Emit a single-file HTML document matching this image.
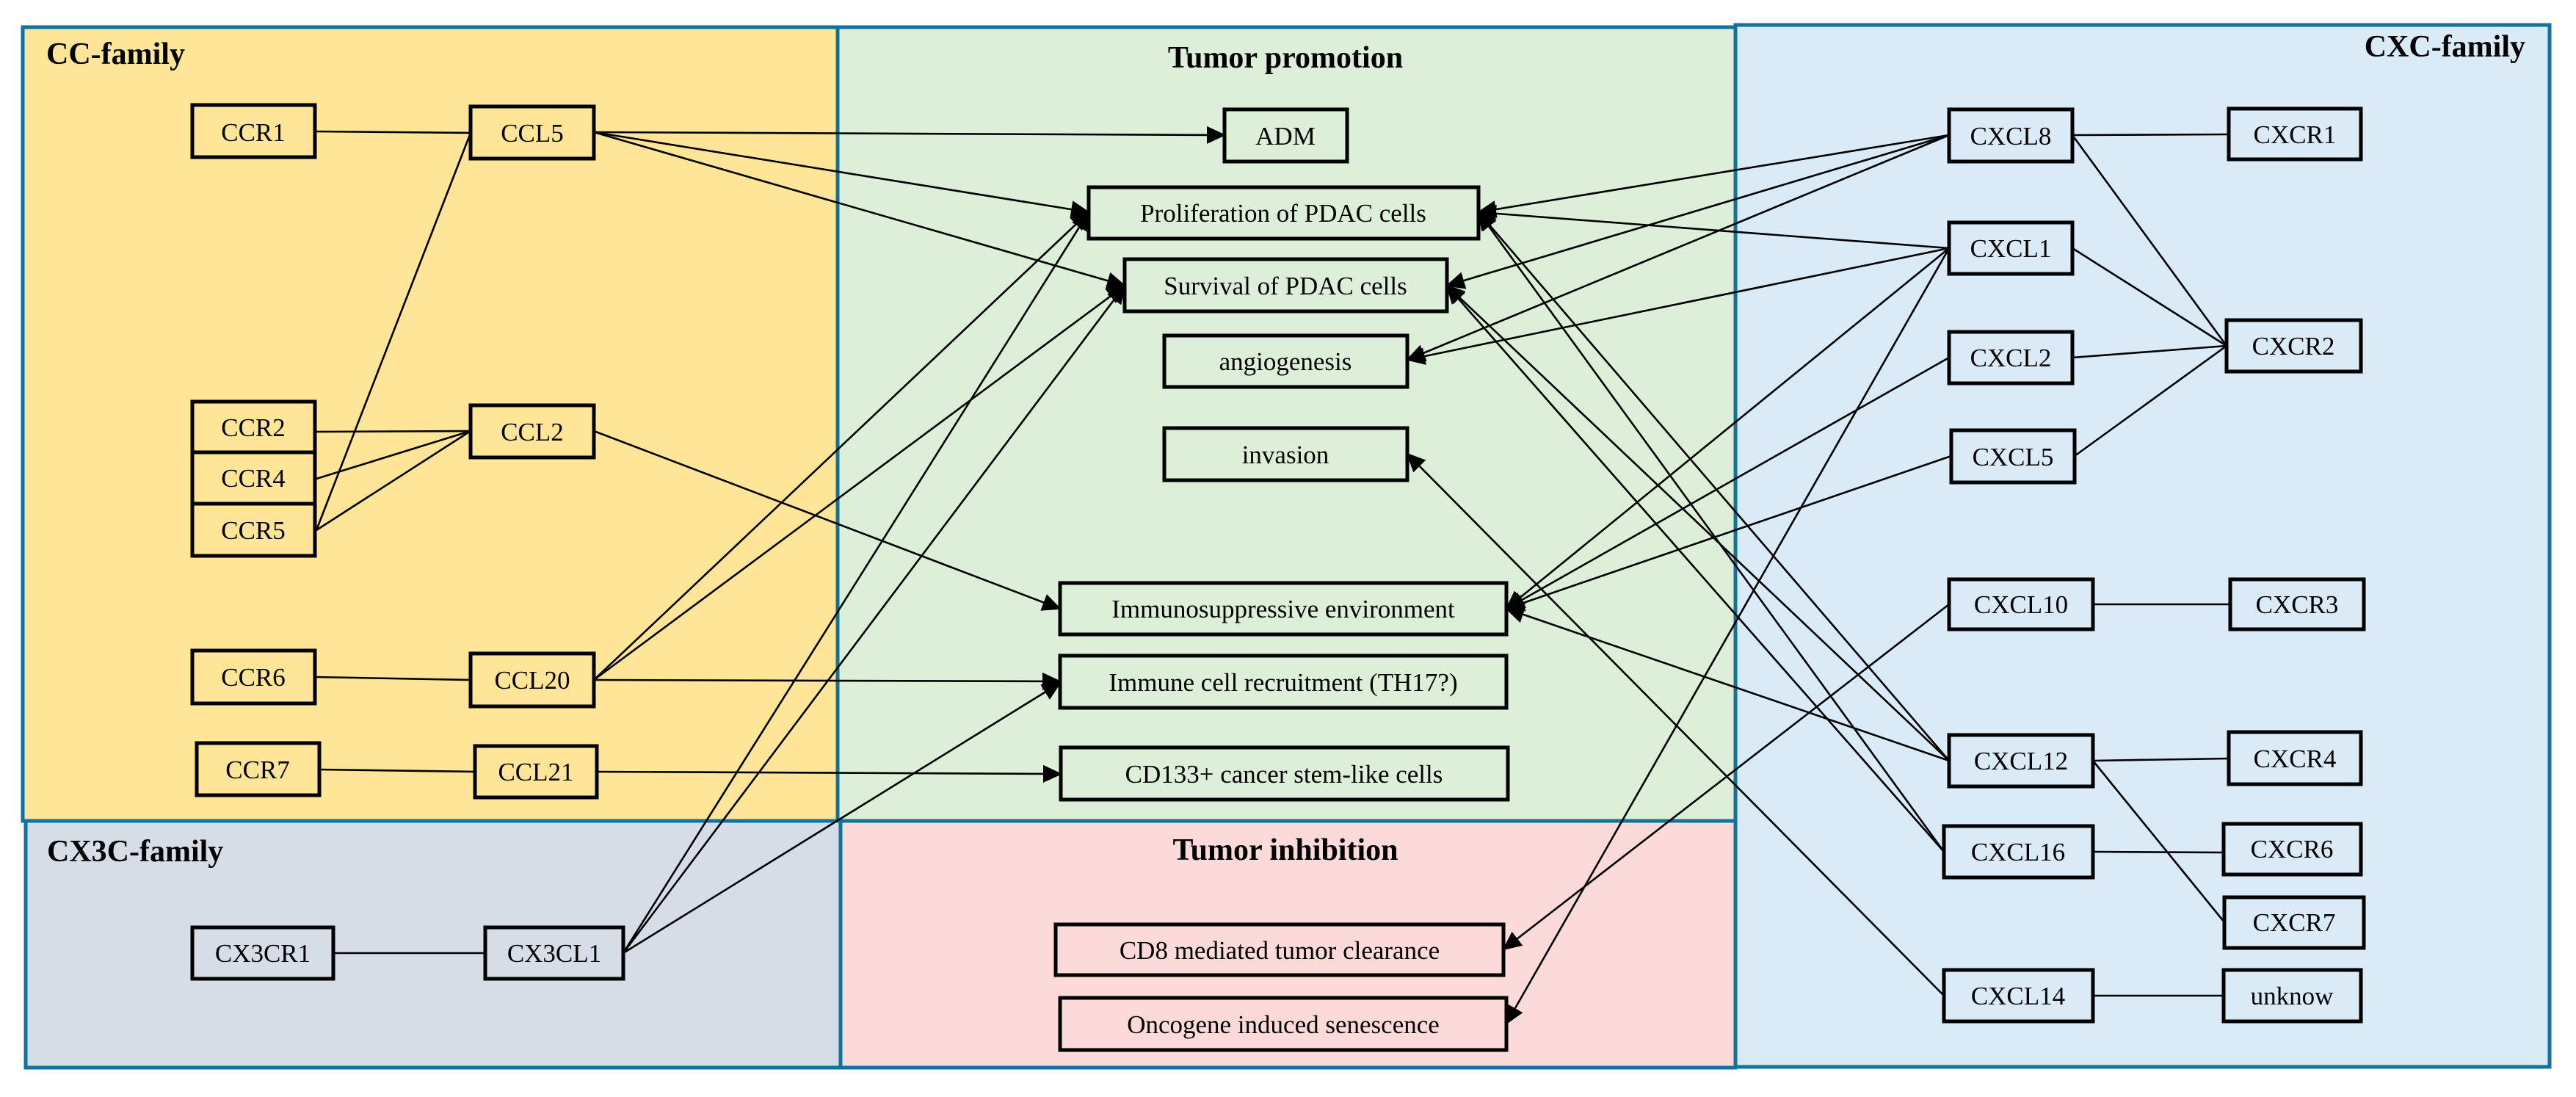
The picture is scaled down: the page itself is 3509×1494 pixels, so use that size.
<!DOCTYPE html>
<html><head><meta charset="utf-8"><style>
html,body{margin:0;padding:0;background:#fff;}
svg{display:block;}
text{font-family:"Liberation Serif","DejaVu Serif",serif;fill:#000;}
.t{font-size:35px;text-anchor:middle;}
.h{font-size:42px;font-weight:bold;}
.b{stroke:#000;stroke-width:5;}
.l{stroke:#000;stroke-width:2.6;fill:none;}
.a{stroke:#000;stroke-width:2.6;fill:none;marker-end:url(#ar);}
.p{stroke:#12729E;stroke-width:5;}
</style></head><body>
<svg width="3509" height="1494" viewBox="0 0 3509 1494" xmlns="http://www.w3.org/2000/svg" font-family="Liberation Serif, serif">
<defs>
<marker id="ar" markerUnits="userSpaceOnUse" markerWidth="26" markerHeight="24" refX="24" refY="12" orient="auto">
<path d="M0,0 L26,12 L0,24 Z" fill="#000"/>
</marker>
</defs>
<rect x="31" y="37" width="1110" height="1081" fill="#FEE598" class="p"/>
<rect x="1141" y="37" width="1223" height="1081" fill="#DDEFD9" class="p"/>
<rect x="35" y="1118" width="1110" height="336" fill="#D6DDE6" class="p"/>
<rect x="1145" y="1118" width="1219" height="336" fill="#FCDAD9" class="p"/>
<rect x="2364" y="34" width="1109" height="1419" fill="#DAEAF7" class="p"/>

<text class="h" x="63" y="87">CC-family</text>
<text class="h" x="1751" y="92" text-anchor="middle">Tumor promotion</text>
<text class="h" x="3440" y="77" text-anchor="end">CXC-family</text>
<text class="h" x="64" y="1173">CX3C-family</text>
<text class="h" x="1751" y="1171" text-anchor="middle">Tumor inhibition</text>

<g>
<line class="l" x1="429" y1="179" x2="641" y2="181"/>
<line class="l" x1="641" y1="181" x2="431" y2="722"/>
<line class="l" x1="429" y1="588" x2="641" y2="587"/>
<line class="l" x1="431" y1="652" x2="641" y2="587"/>
<line class="l" x1="431" y1="722" x2="641" y2="587"/>
<line class="l" x1="429" y1="922" x2="641" y2="926"/>
<line class="l" x1="435" y1="1048" x2="647" y2="1051"/>
<line class="l" x1="454" y1="1298" x2="661" y2="1298"/>

<line class="a" x1="809" y1="180" x2="1668" y2="184"/>
<line class="a" x1="809" y1="180" x2="1483" y2="289"/>
<line class="a" x1="809" y1="180" x2="1532" y2="389"/>
<line class="a" x1="809" y1="587" x2="1444" y2="829"/>
<line class="a" x1="809" y1="926" x2="1483" y2="289"/>
<line class="a" x1="809" y1="926" x2="1532" y2="389"/>
<line class="a" x1="809" y1="926" x2="1444" y2="928"/>
<line class="a" x1="813" y1="1051" x2="1445" y2="1054"/>
<line class="a" x1="849" y1="1298" x2="1483" y2="289"/>
<line class="a" x1="849" y1="1298" x2="1532" y2="389"/>
<line class="a" x1="849" y1="1298" x2="1444" y2="930"/>

<line class="a" x1="2655" y1="184" x2="2014" y2="289"/>
<line class="a" x1="2655" y1="184" x2="1971" y2="389"/>
<line class="a" x1="2655" y1="184" x2="1917" y2="490"/>
<line class="a" x1="2655" y1="338" x2="2014" y2="289"/>
<line class="a" x1="2655" y1="338" x2="1917" y2="490"/>
<line class="a" x1="2655" y1="338" x2="2052" y2="829"/>
<line class="a" x1="2655" y1="338" x2="2052" y2="1394"/>
<line class="a" x1="2655" y1="487" x2="2052" y2="829"/>
<line class="a" x1="2658" y1="621" x2="2052" y2="829"/>
<line class="a" x1="2655" y1="823" x2="2048" y2="1293"/>
<line class="a" x1="2655" y1="1036" x2="2014" y2="289"/>
<line class="a" x1="2655" y1="1036" x2="1971" y2="389"/>
<line class="a" x1="2655" y1="1036" x2="2052" y2="829"/>
<line class="a" x1="2648" y1="1160" x2="2014" y2="289"/>
<line class="a" x1="2648" y1="1160" x2="1971" y2="389"/>
<line class="a" x1="2648" y1="1356" x2="1917" y2="618"/>

<line class="l" x1="2823" y1="184" x2="3036" y2="183"/>
<line class="l" x1="2823" y1="184" x2="3033" y2="471"/>
<line class="l" x1="2823" y1="338" x2="3033" y2="471"/>
<line class="l" x1="2823" y1="487" x2="3033" y2="471"/>
<line class="l" x1="2826" y1="621" x2="3033" y2="471"/>
<line class="l" x1="2851" y1="823" x2="3038" y2="823"/>
<line class="l" x1="2851" y1="1036" x2="3036" y2="1033"/>
<line class="l" x1="2851" y1="1036" x2="3030" y2="1256"/>
<line class="l" x1="2851" y1="1160" x2="3029" y2="1161"/>
<line class="l" x1="2851" y1="1356" x2="3029" y2="1356"/>
</g>

<g fill="#FEE598" class="b">
<rect x="262" y="143" width="167" height="71"/>
<rect x="641" y="145" width="168" height="71"/>
<rect x="262" y="547" width="167" height="69"/>
<rect x="262" y="616" width="167" height="70"/>
<rect x="262" y="686" width="167" height="71"/>
<rect x="641" y="552" width="168" height="71"/>
<rect x="262" y="886" width="167" height="72"/>
<rect x="641" y="890" width="168" height="72"/>
<rect x="268" y="1012" width="167" height="71"/>
<rect x="647" y="1016" width="166" height="70"/>
</g>
<g fill="#D6DDE6" class="b">
<rect x="262" y="1263" width="192" height="70"/>
<rect x="661" y="1263" width="188" height="70"/>
</g>
<g fill="#DDEFD9" class="b">
<rect x="1668" y="149" width="167" height="71"/>
<rect x="1483" y="255" width="531" height="70"/>
<rect x="1532" y="353" width="439" height="71"/>
<rect x="1586" y="457" width="331" height="70"/>
<rect x="1586" y="583" width="331" height="71"/>
<rect x="1444" y="794" width="608" height="70"/>
<rect x="1444" y="893" width="608" height="71"/>
<rect x="1445" y="1018" width="609" height="71"/>
</g>
<g fill="#FCDAD9" class="b">
<rect x="1438" y="1259" width="610" height="69"/>
<rect x="1444" y="1359" width="608" height="71"/>
</g>
<g fill="#DAEAF7" class="b">
<rect x="2655" y="149" width="168" height="71"/>
<rect x="3036" y="148" width="180" height="69"/>
<rect x="2655" y="303" width="168" height="70"/>
<rect x="2655" y="452" width="168" height="70"/>
<rect x="3033" y="436" width="183" height="70"/>
<rect x="2658" y="586" width="168" height="71"/>
<rect x="2655" y="789" width="196" height="68"/>
<rect x="3038" y="789" width="182" height="68"/>
<rect x="2655" y="1001" width="196" height="70"/>
<rect x="3036" y="997" width="180" height="71"/>
<rect x="2648" y="1125" width="203" height="70"/>
<rect x="3029" y="1122" width="187" height="69"/>
<rect x="3030" y="1222" width="190" height="69"/>
<rect x="2648" y="1321" width="203" height="70"/>
<rect x="3029" y="1321" width="187" height="70"/>
</g>

<g>
<text class="t" x="345" y="192">CCR1</text>
<text class="t" x="725" y="193">CCL5</text>
<text class="t" x="345" y="594">CCR2</text>
<text class="t" x="345" y="663">CCR4</text>
<text class="t" x="345" y="734">CCR5</text>
<text class="t" x="725" y="600">CCL2</text>
<text class="t" x="345" y="934">CCR6</text>
<text class="t" x="725" y="938">CCL20</text>
<text class="t" x="351" y="1060">CCR7</text>
<text class="t" x="730" y="1063">CCL21</text>
<text class="t" x="358" y="1310">CX3CR1</text>
<text class="t" x="755" y="1310">CX3CL1</text>
<text class="t" x="1751" y="197">ADM</text>
<text class="t" x="1748" y="302">Proliferation of PDAC cells</text>
<text class="t" x="1751" y="401">Survival of PDAC cells</text>
<text class="t" x="1751" y="504">angiogenesis</text>
<text class="t" x="1751" y="631">invasion</text>
<text class="t" x="1748" y="841">Immunosuppressive environment</text>
<text class="t" x="1748" y="941">Immune cell recruitment (TH17?)</text>
<text class="t" x="1749" y="1066">CD133+ cancer stem-like cells</text>
<text class="t" x="1743" y="1306">CD8 mediated tumor clearance</text>
<text class="t" x="1748" y="1407">Oncogene induced senescence</text>
<text class="t" x="2739" y="197">CXCL8</text>
<text class="t" x="3126" y="195">CXCR1</text>
<text class="t" x="2739" y="350">CXCL1</text>
<text class="t" x="2739" y="499">CXCL2</text>
<text class="t" x="3124" y="483">CXCR2</text>
<text class="t" x="2742" y="634">CXCL5</text>
<text class="t" x="2753" y="835">CXCL10</text>
<text class="t" x="3129" y="835">CXCR3</text>
<text class="t" x="2753" y="1048">CXCL12</text>
<text class="t" x="3126" y="1045">CXCR4</text>
<text class="t" x="2749" y="1172">CXCL16</text>
<text class="t" x="3122" y="1168">CXCR6</text>
<text class="t" x="3125" y="1268">CXCR7</text>
<text class="t" x="2749" y="1368">CXCL14</text>
<text class="t" x="3122" y="1368">unknow</text>
</g>
</svg>
</body></html>
